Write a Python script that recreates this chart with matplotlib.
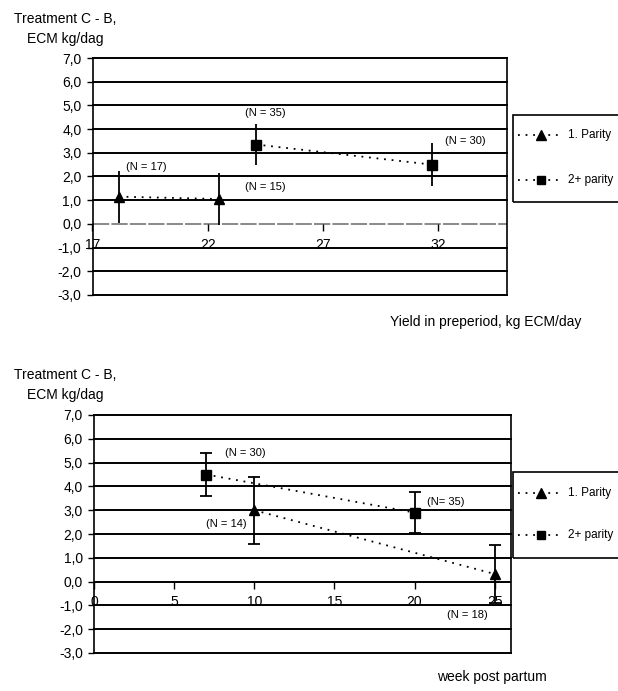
import matplotlib
matplotlib.use("Agg")
import matplotlib.pyplot as plt
from matplotlib.lines import Line2D
from matplotlib.patches import Rectangle

plt.rcParams['font.family'] = ['Liberation Sans', 'DejaVu Sans']

# ---------------- data ----------------
# Top panel: yield in preperiod
top_p1_x = [18.15, 22.5]
top_p1_y = [1.15, 1.05]
top_p1_err = [1.1, 1.1]
top_p2_x = [24.1, 31.75]
top_p2_y = [3.35, 2.5]
top_p2_err = [0.85, 0.9]
top_xticks = [17, 22, 27, 32]
top_notes = [("(N = 17)", 19.35, 2.4), ("(N = 15)", 24.5, 1.56),
             ("(N = 35)", 24.5, 4.68), ("(N = 30)", 33.2, 3.5)]

# Bottom panel: week post partum
bot_p1_x = [10, 25]
bot_p1_y = [3.0, 0.32]
bot_p1_err = [1.4, 1.22]
bot_p2_x = [7, 20]
bot_p2_y = [4.5, 2.9]
bot_p2_err = [0.9, 0.87]
bot_xticks = [0, 5, 10, 15, 20, 25]
bot_notes = [("(N = 30)", 9.44, 5.42), ("(N = 14)", 8.25, 2.44),
             ("(N= 35)", 21.97, 3.36), ("(N = 18)", 23.28, -1.39)]

yticks = [7, 6, 5, 4, 3, 2, 1, 0, -1, -2, -3]
ytick_labels = ["7,0", "6,0", "5,0", "4,0", "3,0", "2,0", "1,0", "0,0", "-1,0", "-2,0", "-3,0"]
legend_labels = ["1. Parity", "2+ parity"]
ylabel_lines = ["Treatment C - B,", "ECM kg/dag"]

W, H = 618, 691
fig = plt.figure(figsize=(W / 100, H / 100), dpi=100)


def fx(px):
    return px / W


def fy(py):
    return 1 - py / H


def make_axes(left, right, top, bottom):
    return fig.add_axes([fx(left), fy(bottom), fx(right) - fx(left), fy(top) - fy(bottom)])


def style_axes(ax, xlim, xticks, zero_style):
    ax.set_xlim(*xlim)
    ax.set_ylim(-3, 7)
    for y in yticks:
        if y == 0:
            continue
        ax.axhline(y, color='black', lw=1.4, zorder=1, clip_on=False)
    if zero_style == 'grey':
        ax.axhline(0, color='0.5', lw=1.3, ls=(0, (9, 1.2)), zorder=1)
    else:
        ax.axhline(0, color='black', lw=1.4, zorder=1)
    for s in ['top', 'bottom']:
        ax.spines[s].set_visible(False)
    ax.spines['left'].set_linewidth(1.2)
    ax.spines['right'].set_linewidth(1.2)
    ax.set_yticks(yticks)
    ax.set_yticklabels(ytick_labels, fontsize=10)
    ax.tick_params(axis='y', direction='out', length=4, width=1, pad=4)
    ax.set_xticks(xticks)
    ax.set_xticklabels([str(t) for t in xticks], fontsize=10)
    ax.tick_params(axis='x', direction='out', length=5, width=1, pad=5)
    ax.spines['bottom'].set_visible(True)
    ax.spines['bottom'].set_position(('data', 0))
    ax.spines['bottom'].set_color('none')
    ax.patch.set_visible(False)


line_kw = dict(color='black', lw=1.3, ls=(0, (1, 3.2)))

# ---------------- top panel ----------------
ax1 = make_axes(92.5, 507, 58, 295)
style_axes(ax1, (17, 35), top_xticks, 'grey')
ax1.errorbar(top_p1_x, top_p1_y, yerr=top_p1_err, fmt='none', ecolor='black', elinewidth=1.3, capsize=0, zorder=3)
ax1.errorbar(top_p2_x, top_p2_y, yerr=top_p2_err, fmt='none', ecolor='black', elinewidth=1.3, capsize=0, zorder=3)
ax1.plot(top_p1_x, top_p1_y, marker='^', ms=7.5, mfc='black', mec='black', zorder=4, **line_kw)
ax1.plot(top_p2_x, top_p2_y, marker='s', ms=6.5, mfc='black', mec='black', zorder=4, **line_kw)
for txt, x, y in top_notes:
    ax1.text(x, y, txt, fontsize=8, ha='center', va='center')

# ---------------- bottom panel ----------------
ax2 = make_axes(94, 510.7, 415, 653)
style_axes(ax2, (0, 26), bot_xticks, 'black')
ax2.errorbar(bot_p1_x, bot_p1_y, yerr=bot_p1_err, fmt='none', ecolor='black', elinewidth=1.3, capsize=4.5, capthick=1.3, zorder=3)
ax2.errorbar(bot_p2_x, bot_p2_y, yerr=bot_p2_err, fmt='none', ecolor='black', elinewidth=1.3, capsize=4.5, capthick=1.3, zorder=3)
ax2.plot(bot_p1_x, bot_p1_y, marker='^', ms=7.5, mfc='black', mec='black', zorder=4, **line_kw)
ax2.plot(bot_p2_x, bot_p2_y, marker='s', ms=6.5, mfc='black', mec='black', zorder=4, **line_kw)
for txt, x, y in bot_notes:
    ax2.text(x, y, txt, fontsize=8, ha='center', va='center')

# ---------------- text labels ----------------
for top_y in (19, 375):
    fig.text(fx(14), fy(top_y), ylabel_lines[0], fontsize=10, ha='left', va='center')
    fig.text(fx(27), fy(top_y + 20), ylabel_lines[1], fontsize=10, ha='left', va='center')
fig.text(fx(390), fy(322), "Yield in preperiod, kg ECM/day", fontsize=10, ha='left', va='center')
fig.text(fx(437), fy(677), "week post partum", fontsize=10, ha='left', va='center')


# ---------------- legends ----------------
def draw_legend(top, bottom, y1, y2):
    fig.patches.append(Rectangle((fx(513), fy(bottom)), fx(660) - fx(513), fy(top) - fy(bottom),
                                 transform=fig.transFigure, fill=False, edgecolor='black', lw=1.2))
    for yy, mk, ms, lab in ((y1, '^', 6.5, legend_labels[0]), (y2, 's', 5.5, legend_labels[1])):
        fig.lines.append(Line2D([fx(518), fx(562)], [fy(yy), fy(yy)], transform=fig.transFigure, **line_kw))
        fig.lines.append(Line2D([fx(541)], [fy(yy)], transform=fig.transFigure, marker=mk, ms=ms,
                                mfc='black', mec='black', ls='none'))
        fig.text(fx(568), fy(yy), lab, fontsize=8.5, ha='left', va='center')


draw_legend(115, 202, 135, 180)
draw_legend(472, 558, 493, 535)

fig.savefig("out.png", dpi=100)
